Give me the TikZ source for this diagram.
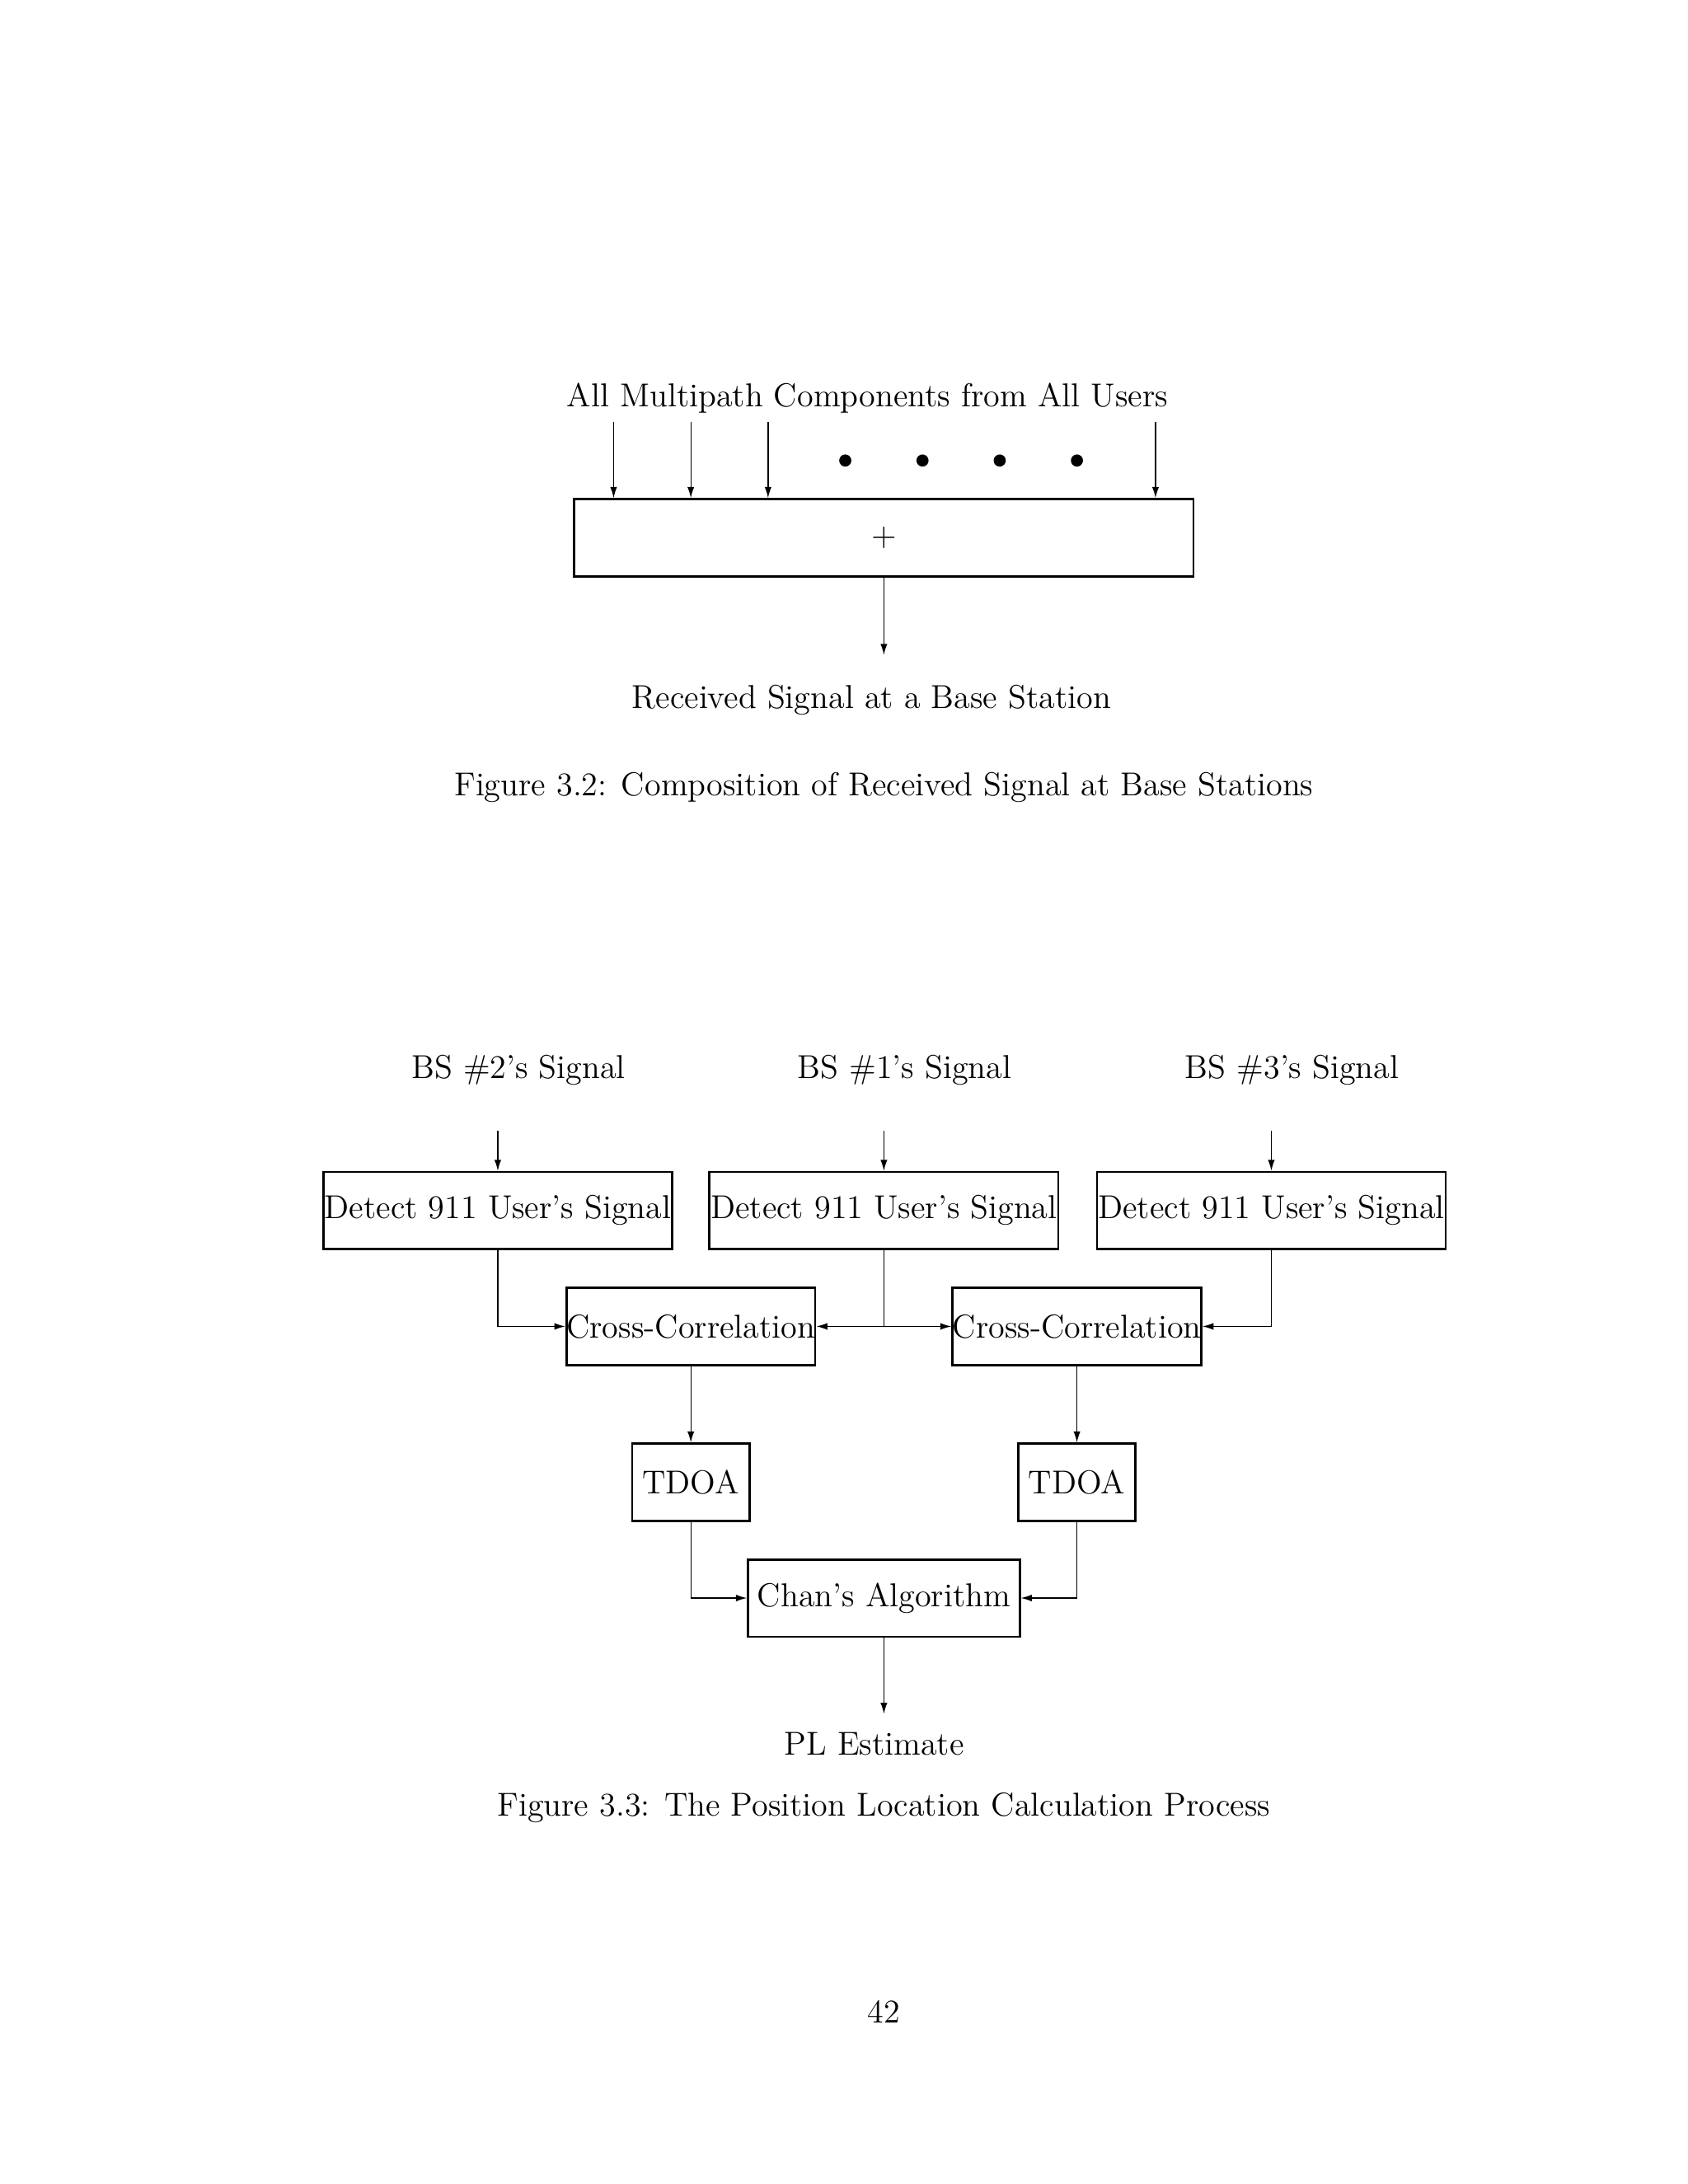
\documentclass[tikz,border=0pt]{standalone}
\usepackage{tikz}
\usetikzlibrary{arrows.meta}
\begin{document}
\fontsize{12}{14}\selectfont
\begin{tikzpicture}[x=0.5pt,y=-0.5pt,
  blk/.style={draw, thick, inner sep=0pt, minimum height=28pt},
  lbl/.style={inner sep=0pt},
  arr/.style={-{Latex[length=4pt,width=2.5pt]}}]
\useasboundingbox (0,0) rectangle (1224,1584);

% Figure 3.2
\node[lbl] (title) at (629,289) {All Multipath Components from All Users};
\node[blk, minimum width=224.5pt] (sum) at (641,390) {$+$};
\foreach \x/\n in {445/a,501/b,557/c,838/d}{
  \coordinate (in\n) at (\x,306);
  \draw[arr] (in\n) -- (in\n |- sum.north);
}
\foreach \x in {613,669,725,781}
  \fill (\x,334) circle (2.2pt);
\coordinate (rxend) at (641,475);
\draw[arr] (sum) -- (rxend);
\node[lbl] (rx) at (632,508) {Received Signal at a Base Station};
\node[lbl] (cap1) at (641,571) {Figure 3.2: Composition of Received Signal at Base Stations};

% Figure 3.3
\node[lbl] (bs2) at (376,776) {BS \#2's Signal};
\node[lbl] (bs1) at (656,776) {BS \#1's Signal};
\node[lbl] (bs3) at (937,776) {BS \#3's Signal};
\node[blk, minimum width=126.5pt] (det2) at (361,878) {Detect 911 User's Signal};
\node[blk, minimum width=126.5pt] (det1) at (641,878) {Detect 911 User's Signal};
\node[blk, minimum width=126.5pt] (det3) at (922,878) {Detect 911 User's Signal};
\foreach \n in {1,2,3}{
  \coordinate (s\n) at (det\n.north |- 0,820);
  \draw[arr] (s\n) -- (det\n);
}
\node[blk, minimum width=84.5pt] (cc1) at (501,962) {Cross-Correlation};
\node[blk, minimum width=84.5pt] (cc2) at (781,962) {Cross-Correlation};
\coordinate (jn) at (641,962);
\draw[arr] (det2) |- (cc1);
\draw[arr] (det3) |- (cc2);
\draw (det1) -- (jn);
\draw[arr] (jn) -- (cc1);
\draw[arr] (jn) -- (cc2);
\node[blk, minimum width=42.5pt] (td1) at (501,1075) {TDOA};
\node[blk, minimum width=42.5pt] (td2) at (781,1075) {TDOA};
\draw[arr] (cc1) -- (td1);
\draw[arr] (cc2) -- (td2);
\node[blk, minimum width=98.5pt] (chan) at (641,1159) {Chan's Algorithm};
\draw[arr] (td1) |- (chan);
\draw[arr] (td2) |- (chan);
\coordinate (plend) at (641,1243);
\draw[arr] (chan) -- (plend);
\node[lbl] (pl) at (634,1265) {PL Estimate};
\node[lbl] (cap2) at (641,1311) {Figure 3.3: The Position Location Calculation Process};
\node[lbl] (page) at (641,1459) {42};
\end{tikzpicture}
\end{document}
